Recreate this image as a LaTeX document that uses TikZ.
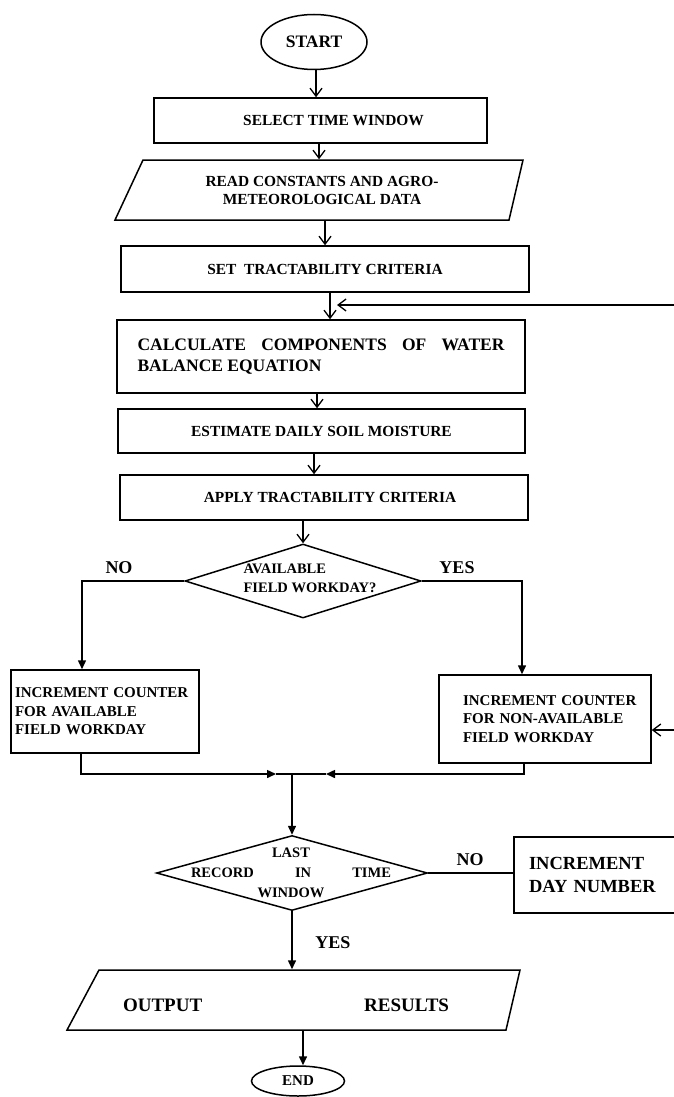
\documentclass[tikz,border=0pt]{standalone}
\usepackage{fontspec}
\setmainfont{Liberation Serif}
\usetikzlibrary{shapes.geometric,arrows.meta}
\newcommand\fsz[2]{\fontsize{#1}{#2}\selectfont\bfseries}
\begin{document}
\begin{tikzpicture}[x=1pt,y=-1pt,line width=1.5pt,
  box/.style={draw,rectangle,inner sep=0pt,align=center,font=\fsz{15.4}{19}},
  term/.style={draw,ellipse,inner sep=0pt},
  decis/.style={draw,diamond,inner sep=0pt},
  oarrow/.style={-{Straight Barb[length=8pt,width=12pt,line width=1.3pt]}},
  farrow/.style={-{Triangle[length=9pt,width=8pt]}},
  lbl/.style={font=\fsz{18}{20}}
]
\clip (0,0) rectangle (674,1097);

% start
\node[term,minimum width=106pt,minimum height=55pt,font=\fsz{17.5}{20}] (start) at (314,42) {START};
\node[box,minimum width=333pt,minimum height=45pt] (select) at (320.5,120.5) {\hspace*{26pt}SELECT TIME WINDOW};

% read (parallelogram)
\coordinate (r1) at (143,160); \coordinate (r2) at (523,160);
\coordinate (r3) at (509,220); \coordinate (r4) at (115,220);
\draw (r1) -- (r2) -- (r3) -- (r4) -- cycle;
\node[inner sep=0pt,minimum height=60pt,minimum width=380pt,align=center,font=\fsz{15.4}{18}] (read) at (322,190) {READ CONSTANTS AND AGRO-\\METEOROLOGICAL DATA};

\node[box,minimum width=408pt,minimum height=46pt] (set) at (325,269) {SET\ \ TRACTABILITY CRITERIA};
\node[box,minimum width=408pt,minimum height=73pt,align=left,font=\fsz{17.5}{21}] (calc) at (321,356.5) {\makebox[367pt][s]{CALCULATE\hfill COMPONENTS\hfill OF\hfill WATER}\\BALANCE EQUATION\hspace*{180pt}};
\node[box,minimum width=407pt,minimum height=44pt] (est) at (321.5,431) {ESTIMATE DAILY SOIL MOISTURE};
\node[box,minimum width=408pt,minimum height=45pt] (apply) at (324,497.5) {\hspace*{12pt}APPLY TRACTABILITY CRITERIA};

% first decision
\node[decis,minimum width=236pt,minimum height=74pt] (dia1) at (303,581) {};
\node[align=left,font=\fsz{14.5}{19}] (dia1t) at (310,578.5) {AVAILABLE\\FIELD WORKDAY?};
\node[lbl] (no1) at (119,568) {NO};
\node[lbl] (yes1) at (457,568) {YES};

\node[draw,inner xsep=4pt,inner ysep=0pt,minimum width=188pt,minimum height=83pt,text width=180pt,align=left,font=\fsz{15}{18.5}] (lbox) at (105,711.5) {INCREMENT COUNTER\\FOR AVAILABLE\\FIELD WORKDAY};
\node[draw,inner xsep=10pt,inner ysep=0pt,minimum width=212pt,minimum height=88pt,text width=192pt,align=left,font=\fsz{15}{18.5}] (rbox) at (545,719) {\hspace*{14pt}INCREMENT COUNTER\\\hspace*{14pt}FOR NON-AVAILABLE\\\hspace*{14pt}FIELD WORKDAY};

% second decision
\node[decis,minimum width=271pt,minimum height=75pt] (dia2) at (292,873) {};
\node[align=center,font=\fsz{14.5}{20}] (dia2t) at (291,873) {LAST\\\makebox[200pt]{RECORD\hfill IN\hfill TIME}\\WINDOW};
\node[lbl] (no2) at (470,860) {NO};
\node[lbl] (yes2) at (333,943) {YES};
\node[draw,inner sep=0pt,minimum width=186pt,minimum height=76pt,text width=156pt,align=left,font=\fsz{18.5}{23}] (dbox) at (607,875) {INCREMENT\\DAY NUMBER};

% output (parallelogram)
\coordinate (o1) at (99,970); \coordinate (o2) at (520,970);
\coordinate (o3) at (506,1030); \coordinate (o4) at (67,1030);
\draw (o1) -- (o2) -- (o3) -- (o4) -- cycle;
\node[inner sep=0pt,minimum height=60pt,minimum width=420pt] (out) at (293,1000) {};
\node[font=\fsz{19}{22}] (outt) at (286,1005) {\makebox[326pt]{OUTPUT\hfill RESULTS}};

\node[term,minimum width=93pt,minimum height=30pt,font=\fsz{15}{18}] (end) at (298,1081) {END};

% connectors (upper part)
\draw[oarrow] ([xshift=2pt]start.south) -- ([xshift=2pt]start.south |- select.north);
\draw[oarrow] ([xshift=-1.5pt]select.south) -- ([xshift=-1.5pt]select.south |- read.north);
\draw[oarrow] ([xshift=3pt]read.south) -- ([xshift=3pt]read.south |- set.north);
\draw[oarrow] ([xshift=5pt]set.south) -- ([xshift=5pt]set.south |- calc.north);
\draw[oarrow] ([xshift=-4pt]calc.south) -- ([xshift=-4pt]calc.south |- est.north);
\draw[oarrow] ([xshift=-7.5pt]est.south) -- ([xshift=-7.5pt]est.south |- apply.north);
\draw[oarrow] (apply.south -| dia1.north) -- (dia1.north);

% feedback lines entering from the right edge
\coordinate (fb1) at (674,305); \coordinate (fb1t) at (337,305);
\draw[oarrow] (fb1) -- (fb1t);
\coordinate (fb2) at (674,730);
\draw[oarrow] (fb2) -- (fb2 -| rbox.east);

% branches
\coordinate (nc) at (82,581); \coordinate (yc) at (522,581);
\draw[farrow] (dia1.west) -- (nc) -- (nc |- lbox.north);
\draw[farrow] (dia1.east) -- (yc) -- (yc |- rbox.north);

% merge
\coordinate (merge) at (292,774);
\coordinate (mtl) at (276,774); \coordinate (mtr) at (326,774);
\draw[farrow] ([xshift=-24pt]lbox.south) |- (mtl);
\draw (mtl) -- (merge);
\draw[farrow] ([xshift=-21pt]rbox.south) |- (mtr);
\draw (mtr) -- (merge);
\draw[farrow] (merge) -- (dia2.north);

% lower part
\draw (dia2.east) -- (dia2.east -| dbox.west);
\draw[farrow] (dia2.south) -- (dia2.south |- out.north);
\draw[farrow] ([xshift=5pt]end.north |- out.south) -- ([xshift=5pt]end.north);
\end{tikzpicture}
\end{document}
